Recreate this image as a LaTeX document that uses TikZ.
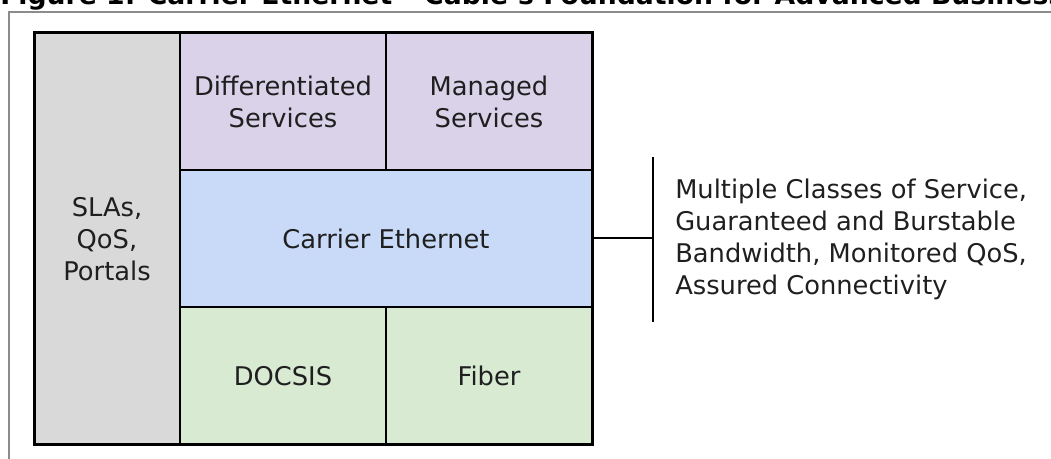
\documentclass[tikz,border=0pt]{standalone}
\usepackage{fontspec}
\setmainfont{DejaVu Sans}
\begin{document}
\begin{tikzpicture}[x=0.75pt,y=-0.75pt,
  layer/.style={draw=black,line width=1.5pt,inner sep=0pt,outer sep=0pt,
    anchor=north west,align=center,text=black!88,
    font=\fontsize{19.3}{24}\selectfont},
  greycol/.style={layer,fill=colGrey},
  purplebox/.style={layer,fill=colPurple},
  bluebox/.style={layer,fill=colBlue},
  greenbox/.style={layer,fill=colGreen},
  note/.style={anchor=west,align=left,inner sep=0pt,text=black!88,
    font=\fontsize{19.3}{24}\selectfont}]
\definecolor{colGrey}{HTML}{D9D9D9}
\definecolor{colPurple}{HTML}{D9D2E9}
\definecolor{colBlue}{HTML}{C9DAF8}
\definecolor{colGreen}{HTML}{D9EAD3}
\definecolor{frameGrey}{HTML}{8C8C8C}
\useasboundingbox (0,0) rectangle (1051,459);
\clip (0,0) rectangle (1051,459);

% caption above the frame
\node[anchor=base west,inner sep=0pt,font=\bfseries\fontsize{20}{24}\selectfont]
  (title) at (0,5) {Figure 1: Carrier Ethernet – Cable's Foundation for Advanced Business Services};

% surrounding frame
\draw[frameGrey,line width=1.5pt] (9,480) -- (9,12) -- (1070,12);

% layered stack
\node[greycol,minimum width=109.5pt,minimum height=309pt] (slas) at (34,33)
  {SLAs,\\QoS,\\Portals};
\node[purplebox,minimum width=154.5pt,minimum height=102.75pt] (diff) at (180,33)
  {Differentiated\\Services};
\node[purplebox,minimum width=154.5pt,minimum height=102.75pt] (managed) at (386,33)
  {Managed\\Services};
\node[bluebox,minimum width=309pt,minimum height=102.75pt] (ce) at (180,170)
  {Carrier Ethernet};
\node[greenbox,minimum width=154.5pt,minimum height=103.5pt] (docsis) at (180,307)
  {DOCSIS};
\node[greenbox,minimum width=154.5pt,minimum height=103.5pt] (fiber) at (386,307)
  {Fiber};
\draw[line width=2.25pt] (slas.north west) rectangle (fiber.south east);

% bracket to the feature list
\coordinate (bartop) at (653,157);
\coordinate (barbot) at (653,322);
\draw[line width=1.5pt] (bartop) -- (barbot);
\draw[line width=1.5pt] (ce.east) -- (ce.east -| bartop);
\node[note] (features) at (675,239)
  {Multiple Classes of Service,\\Guaranteed and Burstable\\Bandwidth, Monitored QoS,\\Assured Connectivity};
\end{tikzpicture}
\end{document}
